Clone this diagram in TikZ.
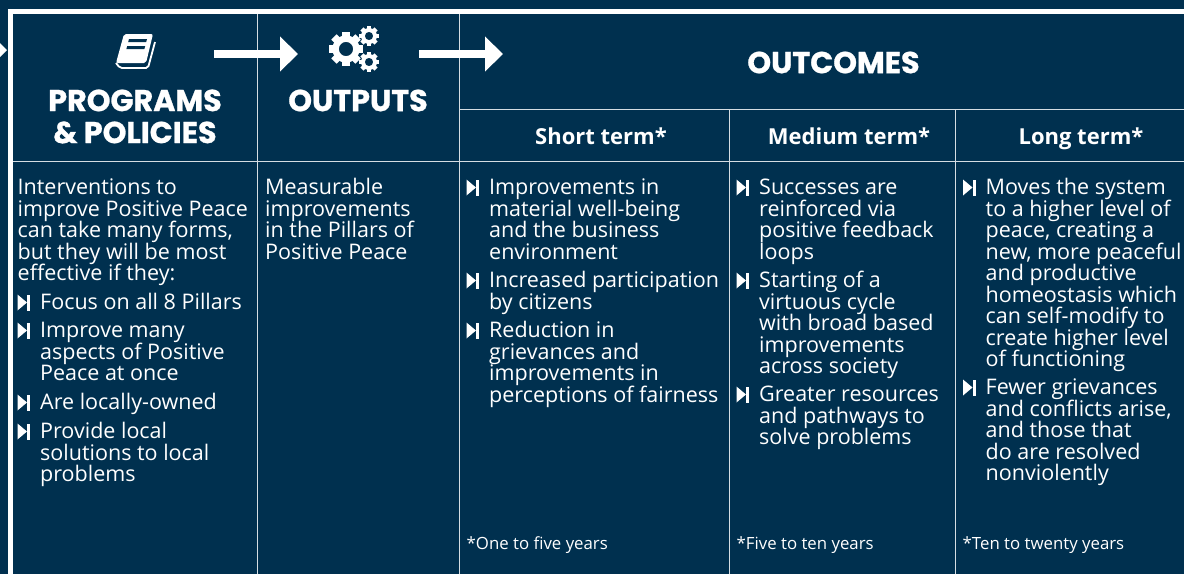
\documentclass[tikz,border=0pt]{standalone}
\usepackage{fontspec}
\usetikzlibrary{arrows.meta}
\setmainfont{Open Sans}
\newfontfamily\headfamily{Poppins}[BoldFont=Poppins Bold,BoldFeatures={FakeBold=0.9}]
\definecolor{panelblue}{HTML}{00304F}
\definecolor{gridgrey}{HTML}{D5DDE3}
\newcommand\bodyfont{\fontsize{21.5}{21.5}\selectfont\lineskiplimit=-20pt}
\newcommand\notefont{\fontsize{16.8}{20}\selectfont}
\newcommand\headfont{\headfamily\bfseries\fontsize{30.2}{32}\selectfont\lineskiplimit=-20pt}
\newcommand\termfont{\fontsize{22}{26}\selectfont\bfseries}
\newcommand\topline{\rule{0pt}{20pt}}
\tikzset{
  gridline/.style={gridgrey, line width=1pt},
  bodytext/.style={anchor=north west, align=left, inner sep=0pt, text=white, font=\bodyfont, yshift=3.5pt},
  notetext/.style={anchor=base west, inner sep=0pt, text=white, font=\notefont},
  headtext/.style={anchor=center, align=center, inner sep=0pt, text=white, font=\headfont},
  termtext/.style={anchor=base, inner sep=0pt, text=white, font=\termfont},
  flowarrow/.style={white, line width=8.5pt, -{Triangle[length=18pt,width=34pt]}},
  itembullet/.pic={
    \fill[white] (-22.5,5) -- (-13,13) -- (-22.5,21) -- cycle;
    \fill[white] (-13,5) rectangle (-10,21);
  },
  gearicon/.pic={
    \fill[white, even odd rule] (0,0) circle (0.8) (0,0) circle (0.42);
    \foreach \aa in {0,45,...,315}
     {
      \fill[white, rotate=\aa] (-0.22,0.7) rectangle (0.22,1);
     }
  },
}
\begin{document}
\begin{tikzpicture}[x=1pt,y=-1pt]
  \useasboundingbox[fill=panelblue] (0,0) rectangle (1184,574);
  % grid
  \foreach \xx in {257,459}
   {
    \draw[gridline] (\xx,12) -- (\xx,574);
   }
  \foreach \xx in {729,955}
   {
    \draw[gridline] (\xx,109) -- (\xx,574);
   }
  \draw[gridline] (12,161) -- (1184,161);
  \draw[gridline] (459,109) -- (1184,109);
  \fill[white] (8,9) rectangle (1184,14);
  \fill[white] (8,9) rectangle (12.5,574);
  % arrows
  \coordinate (progstart) at (214,54);
  \coordinate (progend) at (298,54);
  \coordinate (outstart) at (419,54);
  \coordinate (outend) at (503,54);
  \draw[flowarrow] (progstart) -- (progend);
  \draw[flowarrow] (outstart) -- (outend);
  \fill[white] (0,43) -- (7,50) -- (0,57) -- cycle;
  % book
  \fill[white, rounded corners=2pt] (124,34) -- (153,34) -- (146,63) -- (116,63) -- cycle;
  \draw[white, line width=1.8pt, rounded corners=2pt] (155,42) -- (148,68) -- (120,68) -- (116,63);
  \fill[panelblue] (129,39) -- (147,39) -- (146.2,42) -- (128.2,42) -- cycle;
  \fill[panelblue] (127.2,46) -- (145.2,46) -- (144.4,49) -- (126.4,49) -- cycle;
  % gears
  \pic[scale=17] at (346,49) {gearicon};
  \pic[scale=10] at (369,36) {gearicon};
  \pic[scale=10] at (369,62) {gearicon};
  % headings
  \node[headtext] (programs) at (135,116.5) {PROGRAMS\\\& POLICIES};
  \node[headtext] (outputs) at (358,100.5) {OUTPUTS};
  \node[headtext] (outcomes) at (833.5,62.5) {OUTCOMES};
  \node[termtext] (shortterm) at (601,144) {Short term*};
  \node[termtext] (mediumterm) at (849,144) {Medium term*};
  \node[termtext] (longterm) at (1081,144) {Long term*};
  % programs column
  \node[bodytext] (intro) at (17.5,178) {\topline Interventions to\\improve Positive Peace\\can take many forms,\\but they will be most\\effective if they:};
  \node[bodytext] (focus) at (40,293) {\topline Focus on all 8 Pillars};
  \node[bodytext] (improve) at (40,321) {\topline Improve many\\aspects of Positive\\Peace at once};
  \node[bodytext] (locally) at (40,393) {\topline Are locally-owned};
  \node[bodytext] (solutions) at (40,422) {\topline Provide local\\solutions to local\\problems};
  % outputs column
  \node[bodytext] (measurable) at (265,178) {\topline Measurable\\improvements\\in the Pillars of\\Positive Peace};
  % short term
  \node[bodytext] (material) at (489,178) {\topline Improvements in\\material well-being\\and the business\\environment};
  \node[bodytext] (citizens) at (489,271) {\topline Increased participation\\by citizens};
  \node[bodytext] (grievances) at (489,321) {\topline Reduction in\\grievances and\\improvements in\\perceptions of fairness};
  % medium term
  \node[bodytext] (successes) at (759,178) {\topline Successes are\\reinforced via\\positive feedback\\loops};
  \node[bodytext] (virtuous) at (759,271) {\topline Starting of a\\virtuous cycle\\with broad based\\improvements\\across society};
  \node[bodytext] (resources) at (759,385) {\topline Greater resources\\and pathways to\\solve problems};
  % long term
  \node[bodytext] (moves) at (985.5,178) {\topline Moves the system\\to a higher level of\\peace, creating a\\new, more peaceful\\and productive\\homeostasis which\\can self-modify to\\create higher level\\of functioning};
  \node[bodytext] (fewer) at (985.5,378) {\topline Fewer grievances\\and conflicts arise,\\and those that\\do are resolved\\nonviolently};
  % bullets
  \foreach \nn in {focus,improve,locally,solutions,material,citizens,grievances,successes,virtuous,resources,moves,fewer}
   {
    \pic at (\nn.north west) {itembullet};
   }
  % footnotes
  \node[notetext] (noteshort) at (466.5,549) {*One to five years};
  \node[notetext] (notemedium) at (736.5,549) {*Five to ten years};
  \node[notetext] (notelong) at (962.5,549) {*Ten to twenty years};
\end{tikzpicture}
\end{document}
